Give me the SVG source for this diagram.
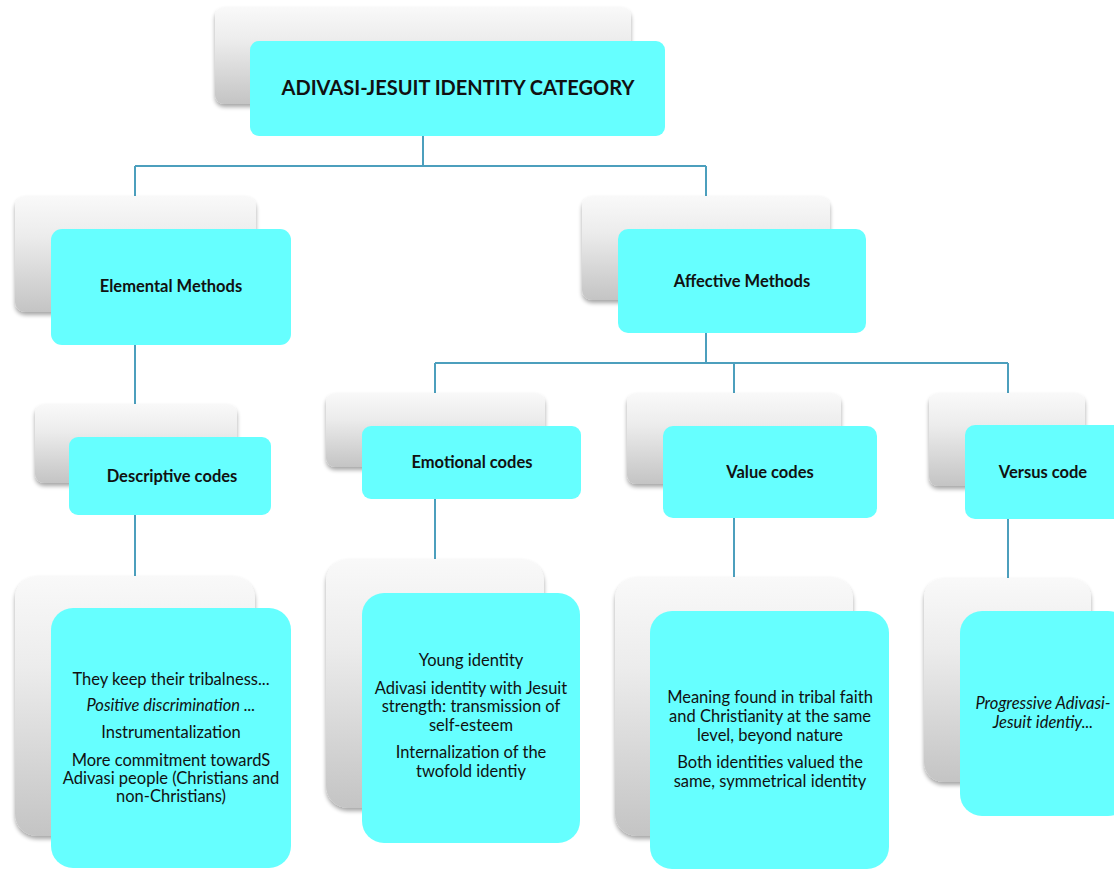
<svg xmlns="http://www.w3.org/2000/svg" width="1114" height="870" viewBox="0 0 1114 870">
<defs>
<linearGradient id="gr" x1="0" y1="0" x2="0" y2="1">
<stop offset="0" stop-color="#f9f9f9"/>
<stop offset="0.35" stop-color="#ececec"/>
<stop offset="1" stop-color="#c4c4c4"/>
</linearGradient>
<filter id="sh" x="-10%" y="-10%" width="120%" height="130%">
<feGaussianBlur in="SourceAlpha" stdDeviation="2"/>
<feOffset dx="0" dy="3" result="b"/>
<feComponentTransfer><feFuncA type="linear" slope="0.35"/></feComponentTransfer>
<feMerge><feMergeNode/><feMergeNode in="SourceGraphic"/></feMerge>
</filter>
</defs>
<style>
.g{fill:url(#gr);filter:url(#sh)}
.c{fill:#66ffff}
.t{font-family:Lato,"Liberation Sans",sans-serif;fill:#111;text-anchor:middle}
.b{font-weight:bold;font-size:16.5px}
.l{font-size:16.5px}
.i{font-style:italic}
.ln{stroke:#4c9fbd;stroke-width:2;fill:none}
</style>
<rect width="1114" height="870" fill="#fff"/>
<g id="connectors">
<path class="ln" d="M423 136V166M135 166H706M135 166V197M706 166V197"/>
<path class="ln" d="M135 345V405M135 515V577"/>
<path class="ln" d="M706 333V363M435 363H1008M435 363V394M734 363V394M1008 363V394"/>
<path class="ln" d="M435 499V560M734 518V578M1008 519V579"/>
</g>
<g id="root">
<rect class="g" x="215" y="7" width="416" height="97" rx="9"/>
<rect class="c" x="250" y="41" width="415" height="95" rx="9"/>
<text class="t" x="458" y="95" style="font-weight:bold;font-size:20px">ADIVASI-JESUIT IDENTITY CATEGORY</text>
</g>
<g id="elemental">
<rect class="g" x="15" y="196" width="241" height="116" rx="10"/>
<rect class="c" x="51" y="229" width="240" height="116" rx="11"/>
<text class="t b" x="171" y="292">Elemental Methods</text>
</g>
<g id="affective">
<rect class="g" x="582" y="196" width="248" height="104" rx="10"/>
<rect class="c" x="618" y="229" width="248" height="104" rx="10"/>
<text class="t b" x="742" y="287">Affective Methods</text>
</g>
<g id="descriptive">
<rect class="g" x="35" y="404" width="202" height="79" rx="9"/>
<rect class="c" x="69" y="437" width="202" height="78" rx="9"/>
<text class="t b" x="172" y="482">Descriptive codes</text>
</g>
<g id="emotional">
<rect class="g" x="326" y="393" width="219" height="74" rx="9"/>
<rect class="c" x="362" y="426" width="219" height="73" rx="9"/>
<text class="t b" x="472" y="468">Emotional codes</text>
</g>
<g id="value">
<rect class="g" x="627" y="393" width="214" height="91" rx="9"/>
<rect class="c" x="663" y="426" width="214" height="92" rx="10"/>
<text class="t b" x="770" y="478">Value codes</text>
</g>
<g id="versus">
<rect class="g" x="929" y="393" width="156" height="93" rx="9"/>
<rect class="c" x="965" y="425" width="160" height="94" rx="10"/>
<text class="t b" x="1043" y="478">Versus code</text>
</g>
<g id="descriptive-leaf">
<rect class="g" x="15" y="576" width="240" height="260" rx="22"/>
<rect class="c" x="51" y="608" width="240" height="260" rx="22"/>
<text class="t l" x="171" y="685">They keep their tribalness...</text>
<text class="t l i" x="171" y="711">Positive discrimination ...</text>
<text class="t l" x="171" y="738">Instrumentalization</text>
<text class="t l" x="171" y="766">More commitment towardS</text>
<text class="t l" x="171" y="784">Adivasi people (Christians and</text>
<text class="t l" x="171" y="802">non-Christians)</text>
</g>
<g id="emotional-leaf">
<rect class="g" x="326" y="559" width="218" height="249" rx="22"/>
<rect class="c" x="362" y="593" width="218" height="250" rx="22"/>
<text class="t l" x="471" y="666">Young identity</text>
<text class="t l" x="471" y="694">Adivasi identity with Jesuit</text>
<text class="t l" x="471" y="712">strength: transmission of</text>
<text class="t l" x="471" y="731">self-esteem</text>
<text class="t l" x="471" y="758">Internalization of the</text>
<text class="t l" x="471" y="777">twofold identiy</text>
</g>
<g id="value-leaf">
<rect class="g" x="615" y="577" width="238" height="259" rx="22"/>
<rect class="c" x="650" y="611" width="239" height="258" rx="22"/>
<text class="t l" x="770" y="703">Meaning found in tribal faith</text>
<text class="t l" x="770" y="722">and Christianity at the same</text>
<text class="t l" x="770" y="741">level, beyond nature</text>
<text class="t l" x="770" y="768">Both identities valued the</text>
<text class="t l" x="770" y="787">same, symmetrical identity</text>
</g>
<g id="versus-leaf">
<rect class="g" x="924" y="578" width="167" height="204" rx="20"/>
<rect class="c" x="960" y="611" width="170" height="205" rx="22"/>
<text class="t l i" x="1043" y="709">Progressive Adivasi-</text>
<text class="t l i" x="1043" y="728">Jesuit identiy...</text>
</g>
</svg>
